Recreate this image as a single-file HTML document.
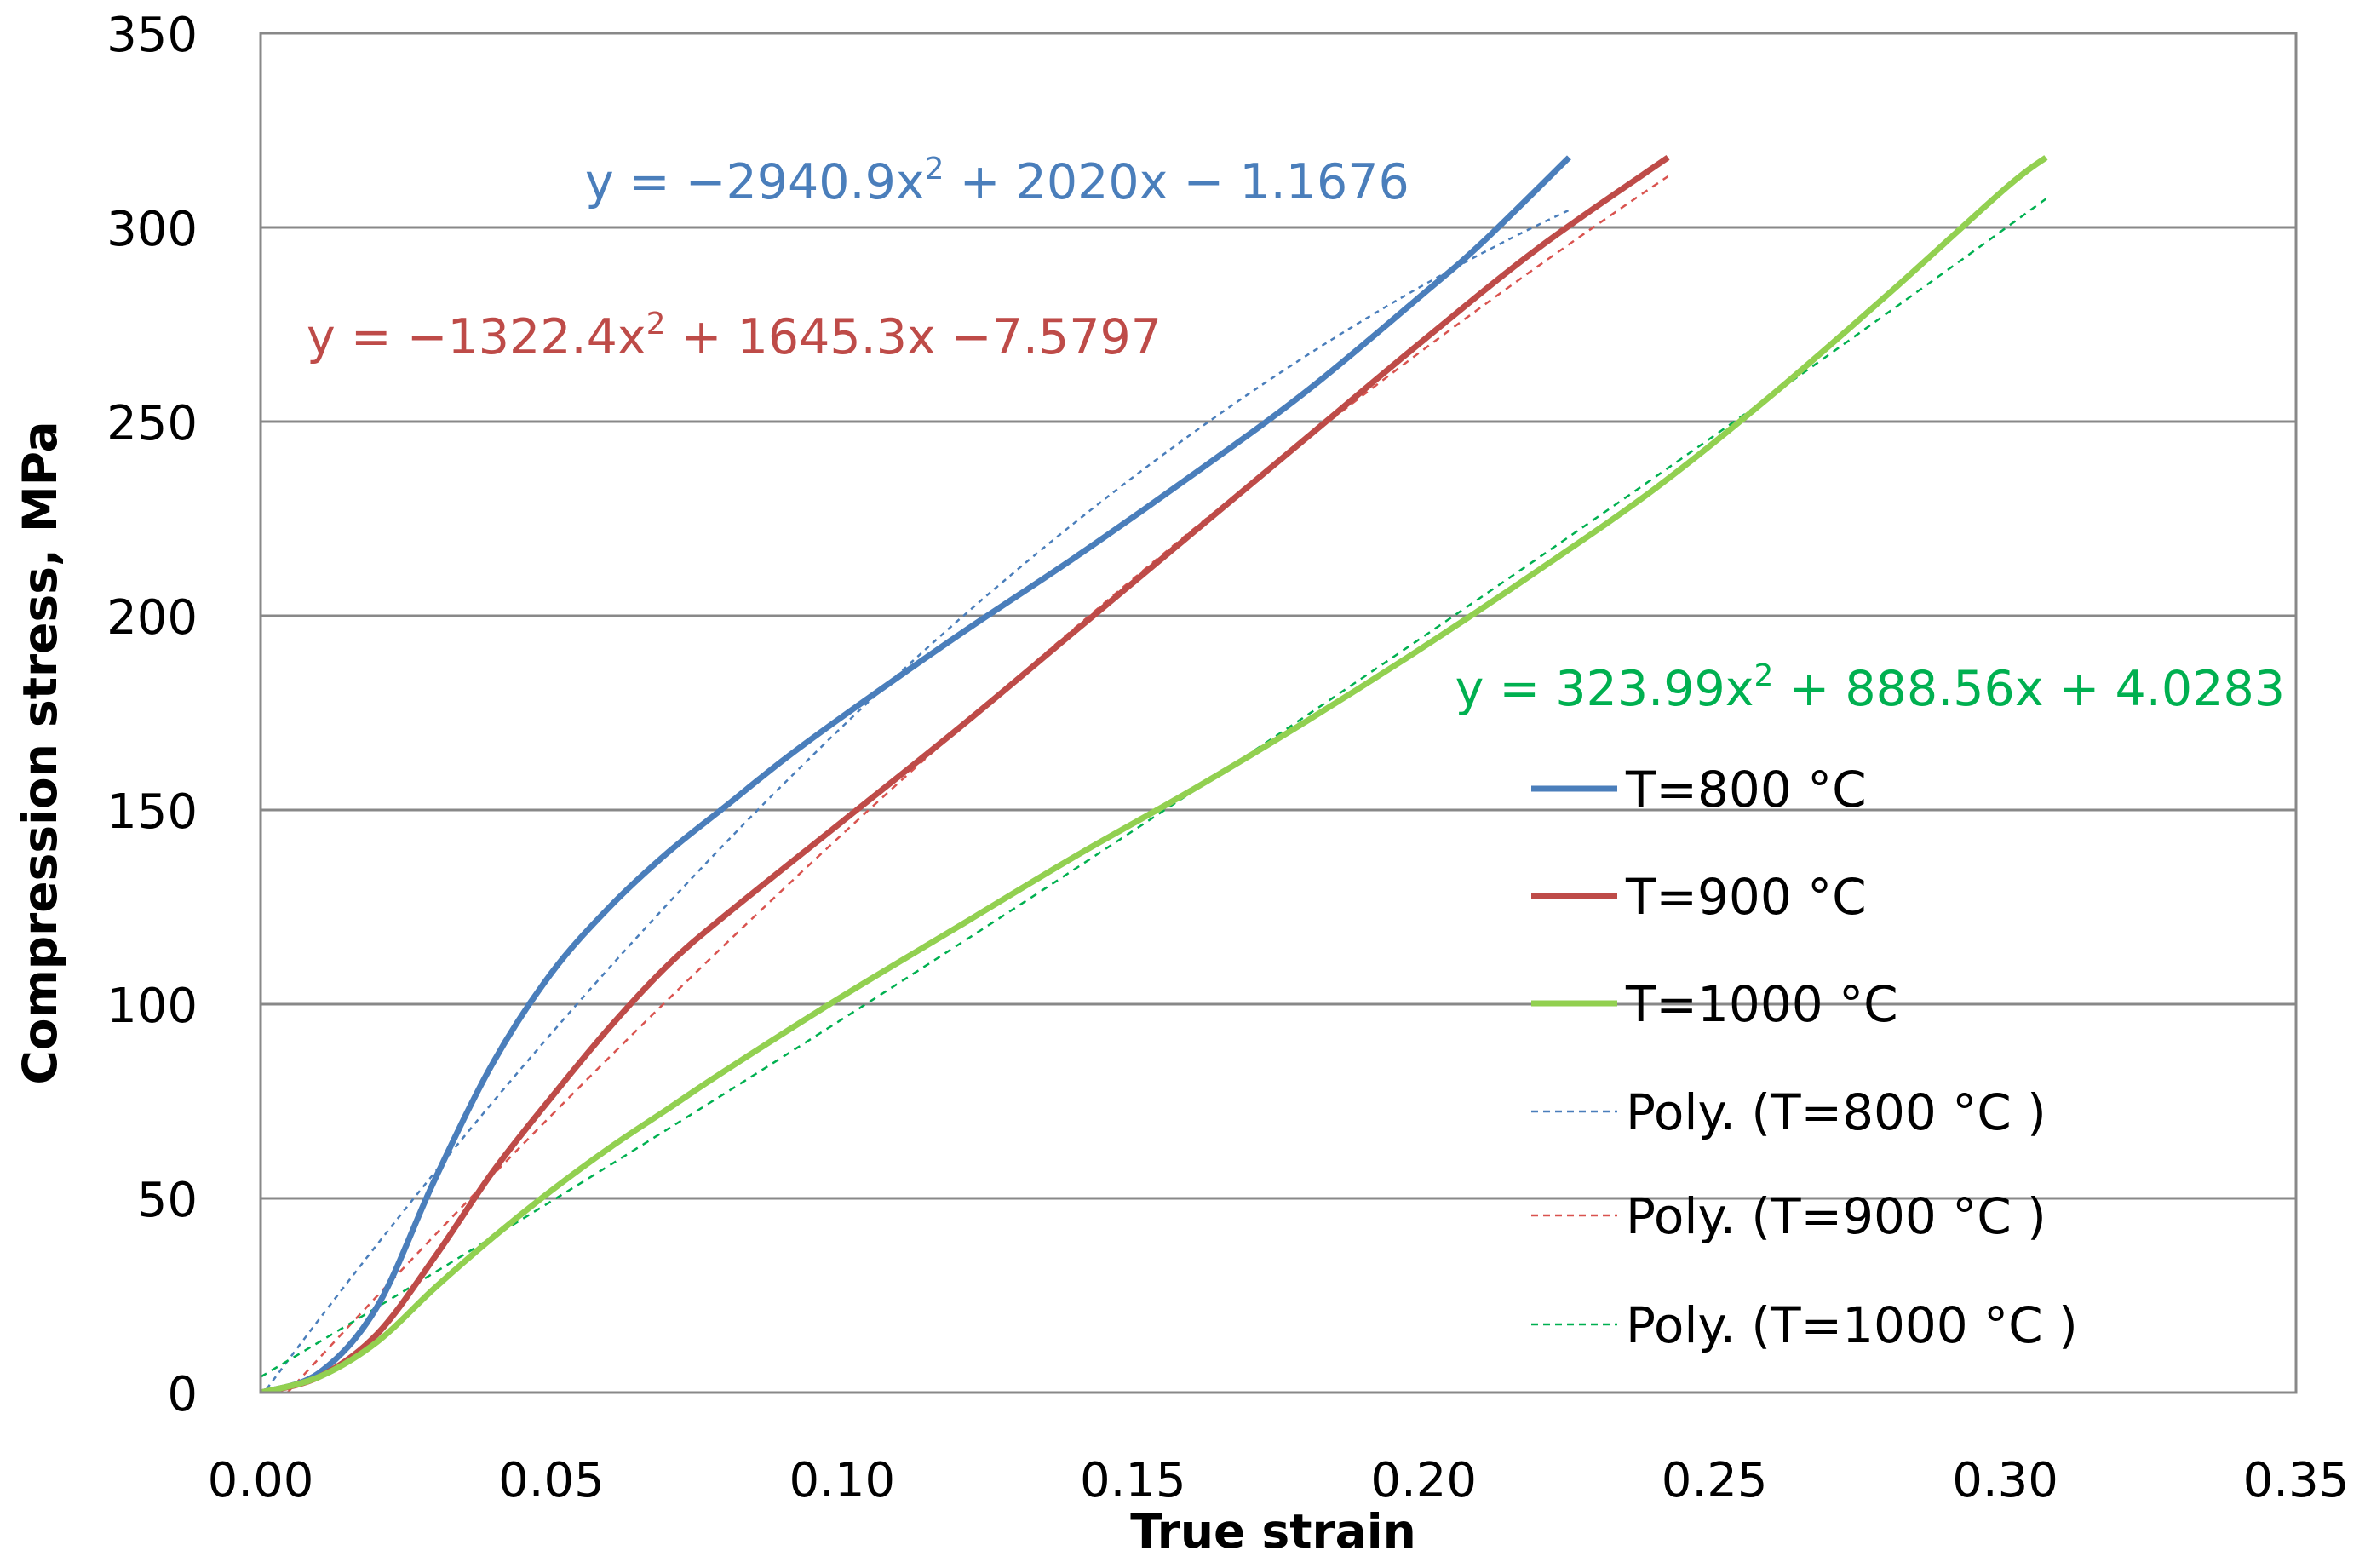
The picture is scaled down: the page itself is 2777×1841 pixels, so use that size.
<!DOCTYPE html>
<html><head><meta charset="utf-8"><style>
html,body{margin:0;padding:0;background:#fff;}
svg{display:block;font-family:"DejaVu Sans","Liberation Sans",sans-serif;}
</style></head><body>
<svg id="chart" width="2777" height="1841" viewBox="0 0 2777 1841" xmlns="http://www.w3.org/2000/svg">
<defs><clipPath id="plotclip"><rect x="306" y="39" width="2390" height="1596"/></clipPath></defs>
<rect x="0" y="0" width="2777" height="1841" fill="#fff"/>
<g id="grid"></g>
<g id="yticks"></g>
<g id="xticks"></g>
<g id="series" clip-path="url(#plotclip)"></g>
<rect x="306" y="39" width="2390" height="1596" fill="none" stroke="#888" stroke-width="3"/>
<text x="1495" y="1817" font-size="55" font-weight="bold" text-anchor="middle">True strain</text>
<text transform="translate(66,884) rotate(-90)" font-size="55" font-weight="bold" text-anchor="middle">Compression stress, MPa</text>
<text x="687" y="233" font-size="57" fill="#4a7ebb">y = −2940.9x<tspan font-size="36" dy="-23">2</tspan><tspan dy="23"> + 2020x − 1.1676</tspan></text>
<text x="360" y="415" font-size="57" fill="#be4b48">y = −1322.4x<tspan font-size="36" dy="-23">2</tspan><tspan dy="23"> + 1645.3x −7.5797</tspan></text>
<text x="2683" y="828" font-size="57" fill="#00b050" text-anchor="end">y = 323.99x<tspan font-size="36" dy="-23">2</tspan><tspan dy="23"> + 888.56x + 4.0283</tspan></text>
<g id="legend"></g>
</svg>
<script>
const xTicks=[0,0.05,0.10,0.15,0.20,0.25,0.30,0.35];
const xTickLabels=["0.00","0.05","0.10","0.15","0.20","0.25","0.30","0.35"];
const yTicks=[0,50,100,150,200,250,300,350];
const strain800=[0,0.01,0.02,0.03,0.04,0.05,0.06,0.07,0.08,0.09,0.10,0.12,0.14,0.16,0.18,0.20,0.21,0.225];
const stress800=[0,5,22,55,85,108,125,139,151,163,174,195,215,236,258,283,296,318];
const strain900=[0,0.01,0.02,0.03,0.04,0.05,0.06,0.07,0.08,0.10,0.12,0.14,0.16,0.18,0.20,0.22,0.242];
const stress900=[0,4,15,35,57,76,94,110,123,147,171,196,221,246,271,295,318];
const strain1000=[0,0.01,0.02,0.03,0.04,0.05,0.06,0.07,0.08,0.10,0.12,0.14,0.16,0.18,0.20,0.22,0.24,0.26,0.28,0.30,0.307];
const stress1000=[0,4,13,27,40,52,63,73,83,102,120,138,155,173,192,212,233,257,283,310,318];
const poly800=[-2940.9,2020,-1.1676];
const poly900=[-1322.4,1645.3,-7.5797];
const poly1000=[323.99,888.56,4.0283];
const legendLabels=["T=800 °C","T=900 °C","T=1000 °C","Poly. (T=800 °C )","Poly. (T=900 °C )","Poly. (T=1000 °C )"];

const L=306,R=2696,T=39,B=1635;
const X=v=>L+(v-0)/(0.35)*(R-L);
const Y=v=>B-(v/350)*(B-T);
const NS="http://www.w3.org/2000/svg";
function mk(tag,attrs,parent){const e=document.createElementNS(NS,tag);for(const k in attrs)e.setAttribute(k,attrs[k]);parent.appendChild(e);return e;}
const grid=document.getElementById('grid'),yt=document.getElementById('yticks'),xt=document.getElementById('xticks'),ser=document.getElementById('series'),leg=document.getElementById('legend');
yTicks.forEach(v=>{
  if(v>0&&v<350){const l=mk('line',{x1:L,x2:R,y1:Y(v),y2:Y(v),stroke:'#888','stroke-width':3},grid);
  
  }
  const t=mk('text',{x:232,y:Y(v)+21,'font-size':56,'text-anchor':'end'},yt);t.textContent=String(v);
  
  
});
xTicks.forEach((v,i)=>{
  const t=mk('text',{x:X(v),y:1757,'font-size':56,'text-anchor':'middle'},xt);t.textContent=xTickLabels[i];
  
  
});
function smooth(xs,ys){
  const p=xs.map((x,i)=>[X(x),Y(ys[i])]);let d='M'+p[0][0]+','+p[0][1];
  for(let i=0;i<p.length-1;i++){const p0=p[Math.max(0,i-1)],p1=p[i],p2=p[i+1],p3=p[Math.min(p.length-1,i+2)];
    d+=' C'+(p1[0]+(p2[0]-p0[0])/6)+','+(p1[1]+(p2[1]-p0[1])/6)+' '+(p2[0]-(p3[0]-p1[0])/6)+','+(p2[1]-(p3[1]-p1[1])/6)+' '+p2[0]+','+p2[1];}
  return d;}
function polyPath(c,xmax){let d='';for(let i=0;i<=60;i++){const x=xmax*i/60;const y=c[0]*x*x+c[1]*x+c[2];d+=(i?' L':'M')+X(x)+','+Y(y);}return d;}
const polys=[[poly800,0.225,'#4a7ebb','6 6'],[poly900,0.242,'#d9534f','8 7'],[poly1000,0.307,'#00b050','8 7']];
polys.forEach((p,i)=>{const e=mk('path',{d:polyPath(p[0],p[1]),fill:'none',stroke:p[2],'stroke-width':2.5,'stroke-dasharray':p[3]},ser);
  
  });
const lines=[[strain800,stress800,'#4a7ebb'],[strain900,stress900,'#be4b48'],[strain1000,stress1000,'#92d050']];
lines.forEach((s,i)=>{const e=mk('path',{d:smooth(s[0],s[1]),fill:'none',stroke:s[2],'stroke-width':7,'stroke-linejoin':'round'},ser);
  
  });
const legY=[926,1052,1178,1305,1427,1555];
const legC=['#4a7ebb','#be4b48','#92d050','#4a7ebb','#d9534f','#00b050'];
legendLabels.forEach((lab,i)=>{
  const ln=mk('line',{x1:1798,x2:1899,y1:legY[i],y2:legY[i],stroke:legC[i],'stroke-width':i<3?7:2.5,'stroke-dasharray':i<3?'none':'8 6'},leg);
  
  
  const t=mk('text',{x:1909,y:legY[i]+21,'font-size':58},leg);t.textContent=lab;
  
  
});
</script>
</body></html>
